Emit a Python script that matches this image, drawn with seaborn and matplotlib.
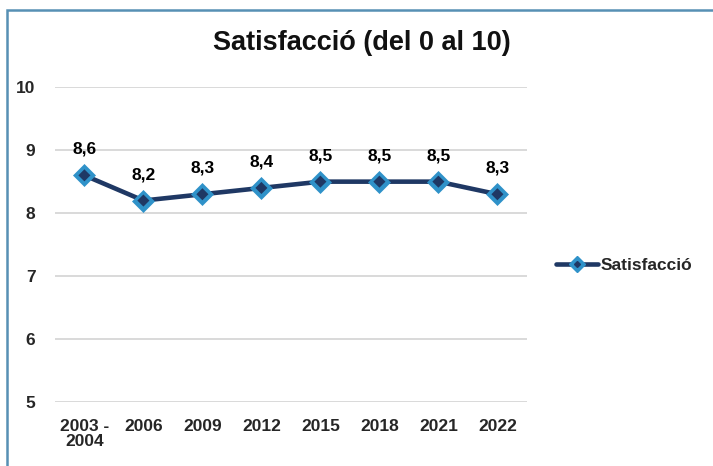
import matplotlib
matplotlib.use("Agg")
import matplotlib.pyplot as plt
from matplotlib.patches import Rectangle
from matplotlib.lines import Line2D
from matplotlib.legend_handler import HandlerTuple
import seaborn as sns
import pandas as pd

periodes = ["2003 -\n2004", "2006", "2009", "2012", "2015", "2018", "2021", "2022"]
satisfaccio = [8.6, 8.2, 8.3, 8.4, 8.5, 8.5, 8.5, 8.3]
y_ticks = [5, 6, 7, 8, 9, 10]

LINE = "#1f3864"
MARK = "#2f92c9"

sns.set_theme(style="white")
plt.rcParams["font.family"] = ["Liberation Sans", "DejaVu Sans"]

df = pd.DataFrame({"periode": periodes, "valor": satisfaccio})

fig = plt.figure(figsize=(7.13, 4.66), dpi=100)
fig.patch.set_facecolor("white")
ax = fig.add_axes([0.077, 0.137, 0.662, 0.676])

# line with light-blue diamonds, then a smaller dark diamond in each centre
sns.lineplot(data=df, x="periode", y="valor", sort=False, ax=ax,
             color=LINE, linewidth=3.3, marker="D", markersize=11,
             markerfacecolor=MARK, markeredgecolor=MARK,
             markeredgewidth=0.5, legend=False)
sns.scatterplot(data=df, x="periode", y="valor", ax=ax, marker="D",
                s=38, color=LINE, edgecolor="none", zorder=5, legend=False)

ax.set_xlim(-0.5, len(periodes) - 0.5)
ax.set_ylim(5, 10)
ax.set_yticks(y_ticks)
ax.set_yticklabels([str(t) for t in y_ticks], fontsize=12.5, fontweight="bold")
ax.set_xticks(range(len(periodes)))
ax.set_xticklabels(periodes, fontsize=12.5, fontweight="bold", linespacing=1.05)
ax.tick_params(axis="x", length=0, pad=12)
ax.tick_params(axis="y", length=0, pad=14)
ax.set_xlabel("")
ax.set_ylabel("")
ax.yaxis.grid(True, color="#d9d9d9", linewidth=1.4)
ax.xaxis.grid(False)
for s in ax.spines.values():
    s.set_visible(False)
ax.set_facecolor("none")

for i, v in enumerate(satisfaccio):
    ax.annotate(f"{v:.1f}".replace(".", ","), (i, v), xytext=(0, 26),
                textcoords="offset pixels", ha="center", va="center",
                fontsize=12.5, fontweight="bold", color="black")

fig.text(0.508, 0.908, "Satisfacció (del 0 al 10)", ha="center", va="center",
         fontsize=19.5, fontweight="bold", color="#111111")

h_outer = Line2D([], [], color=LINE, linewidth=3.3, marker="D", markersize=8,
                 markerfacecolor=MARK, markeredgecolor=MARK)
h_inner = Line2D([], [], linestyle="none", marker="D", markersize=3,
                 markerfacecolor=LINE, markeredgecolor=LINE)
fig.legend([(h_outer, h_inner)], ["Satisfacció"], loc="center left",
           bbox_to_anchor=(0.758, 0.43), frameon=False,
           prop={"size": 12.5, "weight": "bold"}, handlelength=2.4,
           handletextpad=0.15,
           handler_map={tuple: HandlerTuple(ndivide=1, pad=0)})

fig.patches.append(Rectangle((7 / 713, -0.1), 1.2, 1 - 10 / 466 + 0.1,
                             transform=fig.transFigure, fill=False,
                             edgecolor="#5790b4", linewidth=1.8))

fig.savefig("out.png", dpi=100)
